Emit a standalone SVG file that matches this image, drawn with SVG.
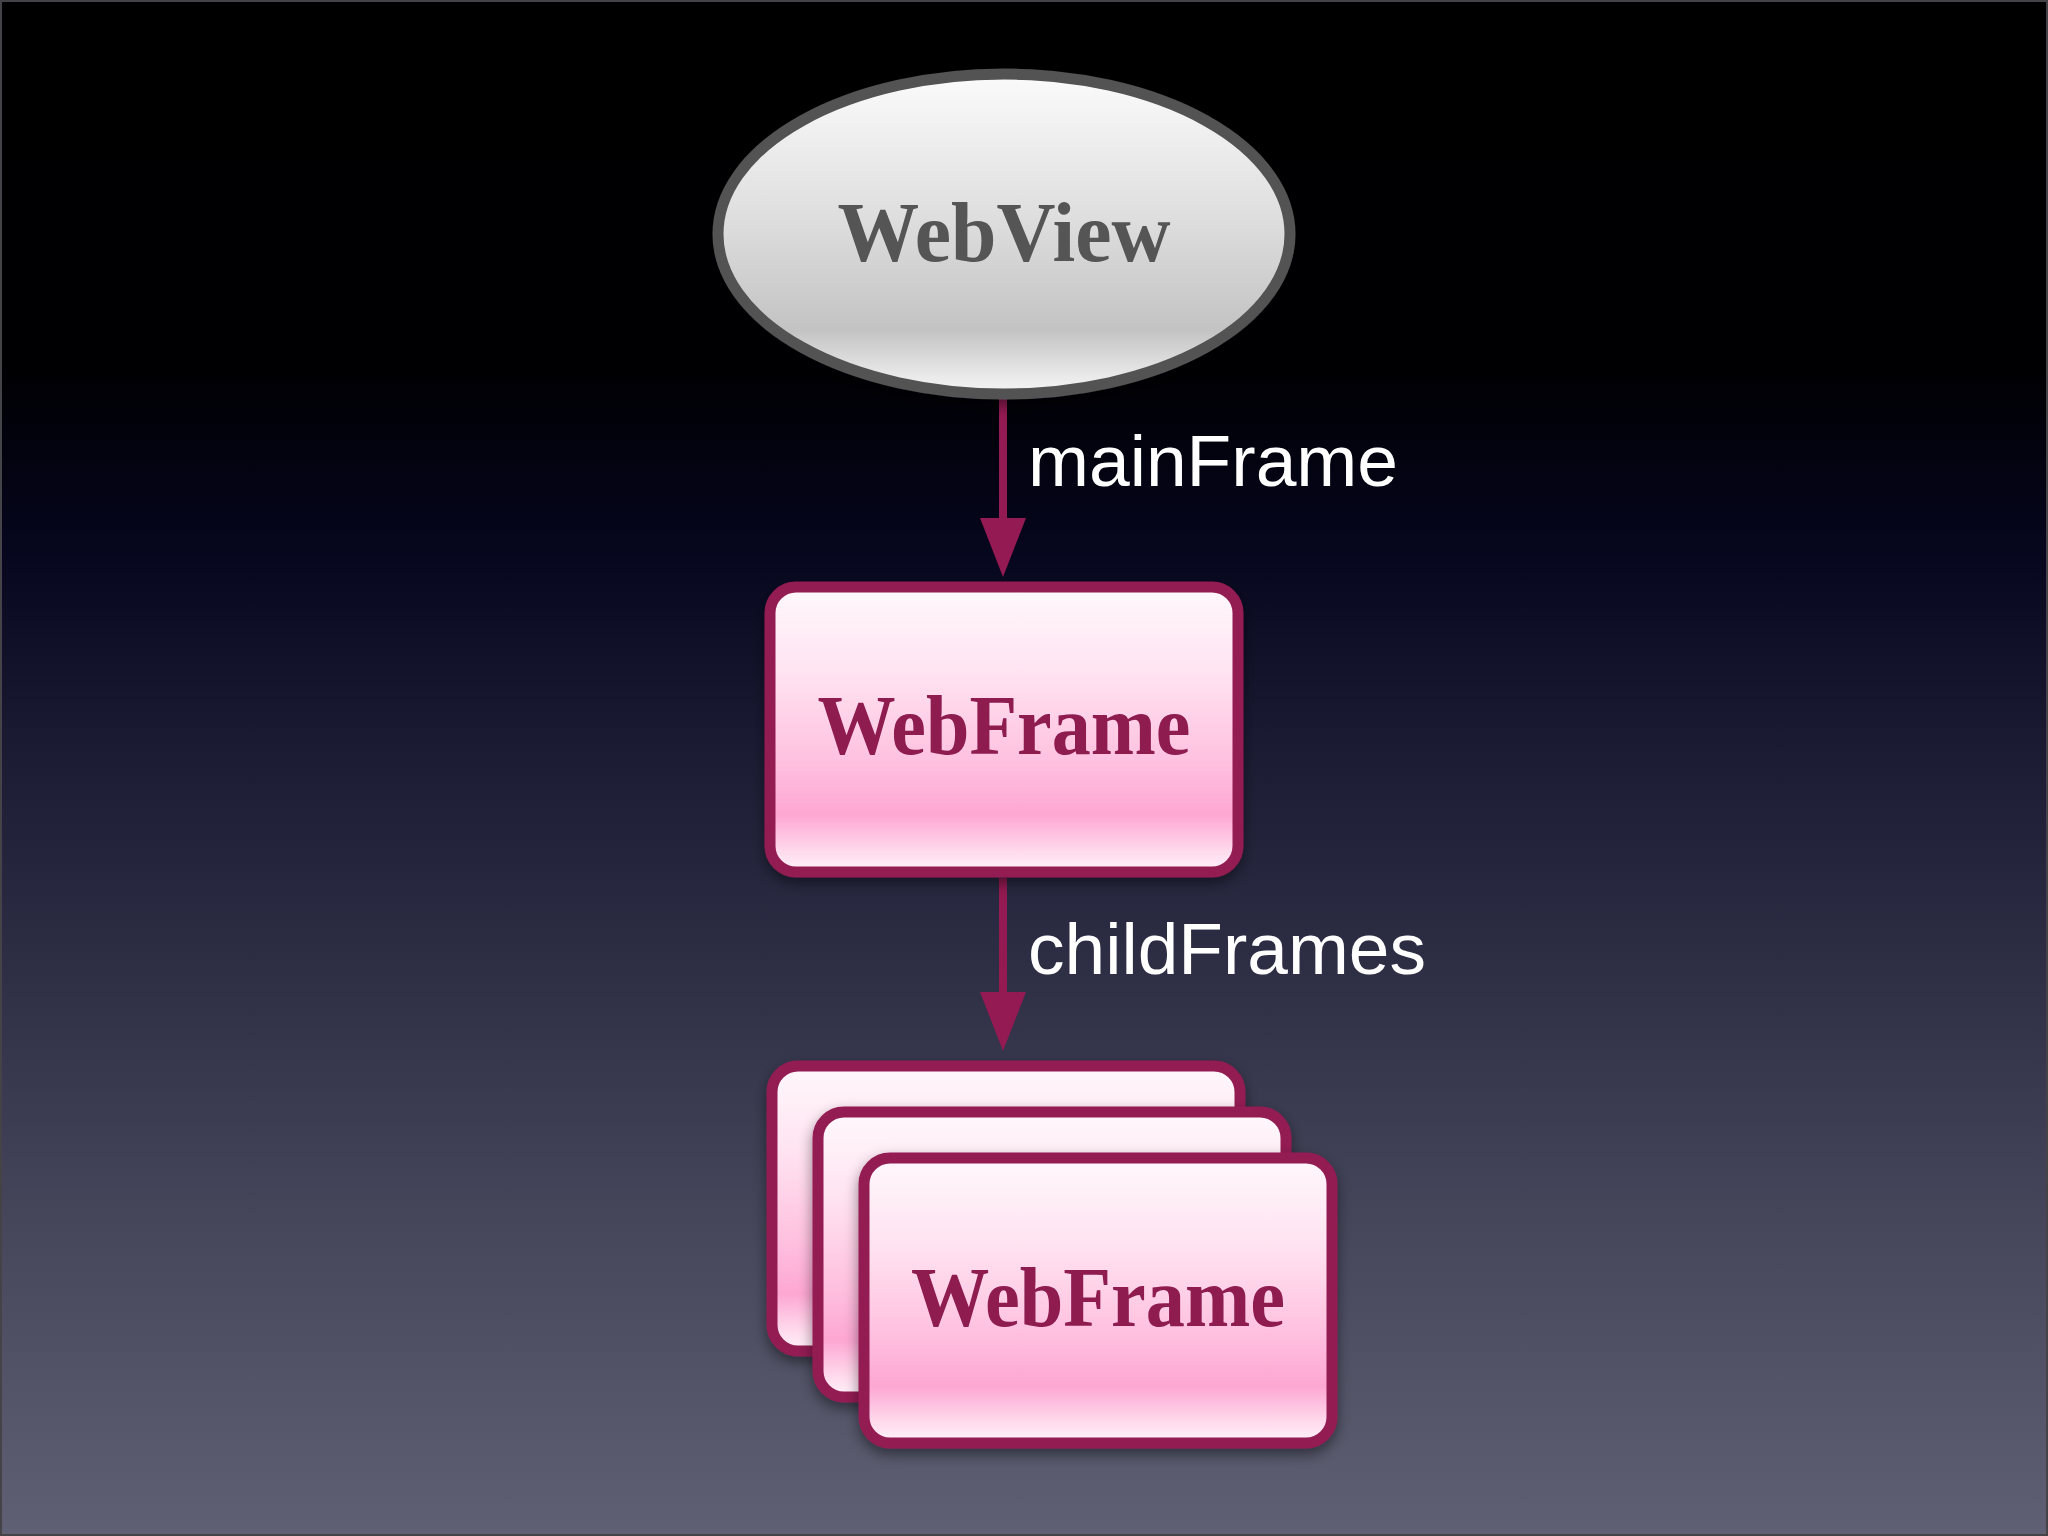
<svg xmlns="http://www.w3.org/2000/svg" width="2048" height="1536" viewBox="0 0 2048 1536">
<style>
.frame{stroke:#931a52;stroke-width:11;fill:url(#pink)}
.conn{stroke:#931a52;stroke-width:8;fill:none}
.ntext{font-family:"Liberation Serif","DejaVu Serif",serif;font-weight:bold;font-size:84px;text-anchor:middle}
.ltext{font-family:"Liberation Sans","DejaVu Sans",sans-serif;font-size:72px;fill:#ffffff}
</style>
<defs>
<linearGradient id="bg" x1="0" y1="0" x2="0" y2="1">
<stop offset="0" stop-color="#000000"/>
<stop offset="0.24" stop-color="#000003"/>
<stop offset="0.36" stop-color="#06061e"/>
<stop offset="0.48" stop-color="#1a1b33"/>
<stop offset="0.64" stop-color="#2f3046"/>
<stop offset="0.8" stop-color="#46475b"/>
<stop offset="1" stop-color="#5f6073"/>
</linearGradient>
<linearGradient id="grey" x1="0" y1="0" x2="0" y2="1">
<stop offset="0" stop-color="#fbfbfb"/>
<stop offset="0.45" stop-color="#dedede"/>
<stop offset="0.8" stop-color="#c3c3c3"/>
<stop offset="0.95" stop-color="#ebebeb"/>
<stop offset="1" stop-color="#f4f4f4"/>
</linearGradient>
<linearGradient id="pink" x1="0" y1="0" x2="0" y2="1">
<stop offset="0" stop-color="#fff8fc"/>
<stop offset="0.3" stop-color="#ffe3f1"/>
<stop offset="0.6" stop-color="#ffc2e0"/>
<stop offset="0.8" stop-color="#fda7d3"/>
<stop offset="0.93" stop-color="#ffdbed"/>
<stop offset="1" stop-color="#fff2f9"/>
</linearGradient>
<filter id="shadow" x="-10%" y="-10%" width="120%" height="130%">
<feDropShadow dx="0" dy="6" stdDeviation="7" flood-color="#000000" flood-opacity="0.45"/>
</filter>
<marker id="arrow" viewBox="0 0 59 46" refX="22" refY="23" markerWidth="59" markerHeight="46" markerUnits="userSpaceOnUse" orient="auto">
<path d="M0,0 L59,23 L0,46 Z" fill="#931a52"/>
</marker>
</defs>
<rect x="0" y="0" width="2048" height="1536" fill="url(#bg)"/>
<rect x="1" y="1" width="2046" height="1534" fill="none" stroke="#444448" stroke-width="2"/>

<g id="connectors">
<line class="conn" x1="1003" y1="396" x2="1003" y2="540" marker-end="url(#arrow)"/>
<line class="conn" x1="1003" y1="878" x2="1003" y2="1014" marker-end="url(#arrow)"/>
<text class="ltext" x="1028" y="486" textLength="370" lengthAdjust="spacingAndGlyphs">mainFrame</text>
<text class="ltext" x="1028" y="974" textLength="398" lengthAdjust="spacingAndGlyphs">childFrames</text>
</g>

<g id="webview" filter="url(#shadow)">
<ellipse cx="1004" cy="234" rx="286" ry="160" fill="url(#grey)" stroke="#525252" stroke-width="11"/>
<text class="ntext" x="1004" y="261" fill="#555555" textLength="333" lengthAdjust="spacingAndGlyphs">WebView</text>
</g>

<g id="webframe-main" filter="url(#shadow)">
<rect class="frame" x="770" y="587" width="468" height="285" rx="26"/>
<text class="ntext" x="1004" y="754" fill="#8e1a50" textLength="373" lengthAdjust="spacingAndGlyphs">WebFrame</text>
</g>

<g id="webframe-child-1" filter="url(#shadow)">
<rect class="frame" x="772" y="1066" width="468" height="285" rx="26"/>
</g>
<g id="webframe-child-2" filter="url(#shadow)">
<rect class="frame" x="818" y="1112" width="468" height="285" rx="26"/>
</g>
<g id="webframe-child-3" filter="url(#shadow)">
<rect class="frame" x="864" y="1158" width="468" height="285" rx="26"/>
<text class="ntext" x="1098" y="1326" fill="#8e1a50" textLength="374" lengthAdjust="spacingAndGlyphs">WebFrame</text>
</g>
</svg>
